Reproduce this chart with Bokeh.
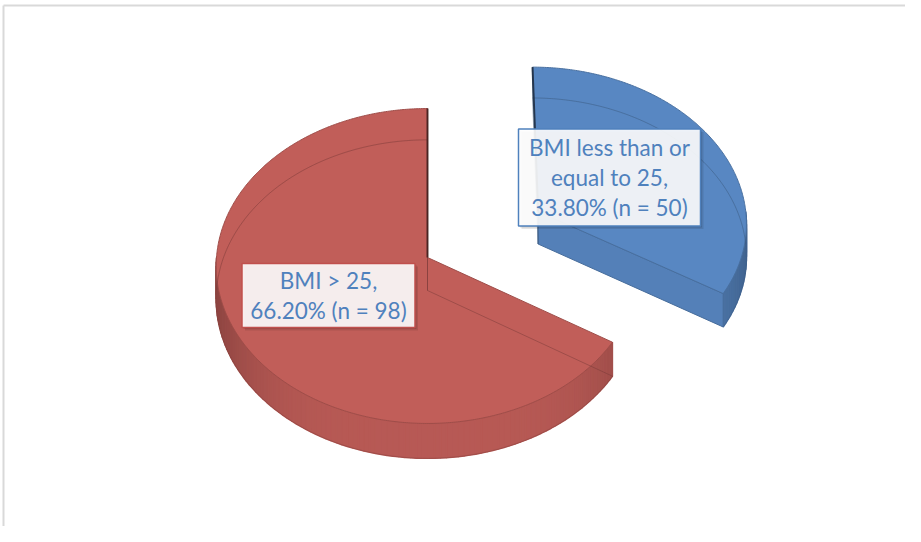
import textwrap
import numpy as np
from bokeh.plotting import figure
from bokeh.models import Range1d
from bokeh.core.properties import value
from bokeh.embed import file_html
from bokeh.resources import INLINE

# ---------------- data ----------------
categories = ["BMI less than or equal to 25", "BMI > 25"]
counts = [50, 98]
percents = [33.80, 66.20]
slice_colors = ["#5887C2", "#C15E59"]
border_colors = ["#4F81BD", "#C0504D"]
exploded = [True, False]

# ---------------- layout (pixel space) ----------------
W, H_PAGE = 905, 526
CX, CY = 427, 257          # pie centre on the top face
FX, FY = 211, 157          # radii of the projected circle
K = 0.054                  # perspective strength
DEPTH = 33                 # slab thickness
EXPLODE = 0.61             # explode distance (fraction of radius)
LABEL_CENTERS = [(609, 177), (328, 295)]
LABEL_HALF = [(91, 48.5), (86.5, 32)]
LINE_GAP = 30
TEXT_COLOR = "#4F81BD"
FONT = "Lato"
FONT_SIZE = "22.5px"


def shade(hexcol, f):
    h = hexcol.lstrip("#")
    r, g, b = (int(h[i:i + 2], 16) for i in (0, 2, 4))
    return "#%02x%02x%02x" % tuple(max(0, min(255, int(round(c * f)))) for c in (r, g, b))


def proj(X, Z, drop=False):
    w = 1 + K * np.asarray(Z, dtype=float)
    x = CX + FX * np.asarray(X, dtype=float) / w
    y = CY - FY * np.asarray(Z, dtype=float) / w + (DEPTH / w if drop else 0)
    return x, y


p = figure(width=W, height=H_PAGE, output_backend="svg", toolbar_location=None,
           x_range=Range1d(0, W), y_range=Range1d(H_PAGE, 0),
           x_axis_location=None, y_axis_location=None, min_border=0)
p.outline_line_color = None
p.background_fill_color = "white"
p.border_fill_color = "white"
p.grid.visible = False

# light frame at top and left edges
p.segment(x0=[3, 3], y0=[5, 5], x1=[W, 3], y1=[5, H_PAGE],
          line_color="#d9d9d9", line_width=2)

total = float(sum(counts))
starts = np.cumsum([0] + counts[:-1]) / total * 2 * np.pi
ends = np.cumsum(counts) / total * 2 * np.pi

for i in range(len(counts)):
    a0, a1 = starts[i], ends[i]
    col = slice_colors[i]
    mid = (a0 + a1) / 2
    ox = EXPLODE * np.sin(mid) if exploded[i] else 0.0
    oz = EXPLODE * np.cos(mid) if exploded[i] else 0.0

    n = max(3, int(np.degrees(a1 - a0) * 2))
    ts = np.linspace(a0, a1, n)
    X, Z = ox + np.sin(ts), oz + np.cos(ts)
    tx, ty = proj(X, Z)
    bx, by = proj(X, Z, True)
    axt, ayt = proj(ox, oz)
    axb, ayb = proj(ox, oz, True)

    def rim_pt(t, drop=False):
        return proj(ox + np.sin(t), oz + np.cos(t), drop)

    # outer curved wall (front half only)
    lo, hi = max(a0, np.pi / 2), min(a1, 3 * np.pi / 2)
    if hi > lo:
        m = max(3, int(np.degrees(hi - lo) / 1.5))
        tw = np.linspace(lo, hi, m)
        WX, WZ = ox + np.sin(tw), oz + np.cos(tw)
        wtx, wty = proj(WX, WZ)
        wbx, wby = proj(WX, WZ, True)
        # base of the wall (hides seams between shaded strips)
        p.patch(np.r_[wtx, wbx[::-1]], np.r_[wty, wby[::-1]],
                fill_color=shade(col, 0.88), line_color=None)
        xs, ys, cs = [], [], []
        for j in range(m - 1):
            xs.append([wtx[j], wtx[j + 1], wbx[j + 1], wbx[j]])
            ys.append([wty[j], wty[j + 1], wby[j + 1], wby[j]])
            tm = (tw[j] + tw[j + 1]) / 2
            f = 0.95 - 0.22 * abs(np.sin(tm)) ** 4
            cs.append(shade(col, f))
        p.patches(xs, ys, fill_color=cs, line_color=cs, line_width=1.5)
        p.line(wbx, wby, line_color=shade(col, 0.7), line_alpha=0.5, line_width=1)

    # radial walls
    hidden_radials = []
    for a, sgn in ((a1, 1), (a0, -1)):
        front = sgn * np.sin(a)
        rtx, rty = rim_pt(a)
        rbx, rby = rim_pt(a, True)
        if front > 0.05:
            p.patch([float(axt), float(rtx), float(rbx), float(axb)],
                    [float(ayt), float(rty), float(rby), float(ayb)],
                    fill_color=shade(col, 0.95), line_color=shade(col, 0.8),
                    line_width=1)
        else:
            hidden_radials.append((a, front))

    # top face
    p.patch(np.r_[axt, tx], np.r_[ayt, ty], fill_color=col,
            line_color=shade(col, 0.82), line_width=1)

    # edges seen through the translucent top
    faint = dict(line_color=shade(col, 0.6), line_alpha=0.45, line_width=1)
    mask = np.cos(ts) > 0
    if mask.any():
        p.line(bx[mask], by[mask], **faint)
    p.line([float(axt), float(axb)], [float(ayt), float(ayb)], **faint)
    for a, front in hidden_radials:
        rtx, rty = rim_pt(a)
        rbx, rby = rim_pt(a, True)
        p.line([float(axb), float(rbx)], [float(ayb), float(rby)], **faint)
        if abs(front) <= 0.05:
            p.line([float(rtx), float(rbx)], [float(rty), float(rby)], **faint)
            p.line([float(axt), float(rtx)], [float(ayt), float(rty)],
                   line_color=shade(col, 0.35), line_width=2, line_alpha=0.9)

# ---------------- labels ----------------
for i in range(len(counts)):
    lines = textwrap.wrap(categories[i] + ",", 16) + ["%.2f%% (n = %d)" % (percents[i], counts[i])]
    cx, cy = LABEL_CENTERS[i]
    hw, hh = LABEL_HALF[i]
    for off, a in ((3, 0.10), (1.5, 0.12)):
        p.quad(left=cx - hw + off, right=cx + hw + off, top=cy - hh + off, bottom=cy + hh + off,
               fill_color="black", fill_alpha=a, line_color=None)
    p.quad(left=cx - hw, right=cx + hw, top=cy - hh, bottom=cy + hh,
           fill_color="white", fill_alpha=0.9, line_color=border_colors[i], line_width=1.5)
    k = len(lines)
    ys = [cy + (j - (k - 1) / 2) * LINE_GAP for j in range(k)]
    p.text(x=[cx] * k, y=ys, text=lines, text_align="center", text_baseline="middle",
           text_font=value(FONT), text_font_size=FONT_SIZE, text_color=TEXT_COLOR)

open("out.html", "w").write(file_html(p, INLINE))
